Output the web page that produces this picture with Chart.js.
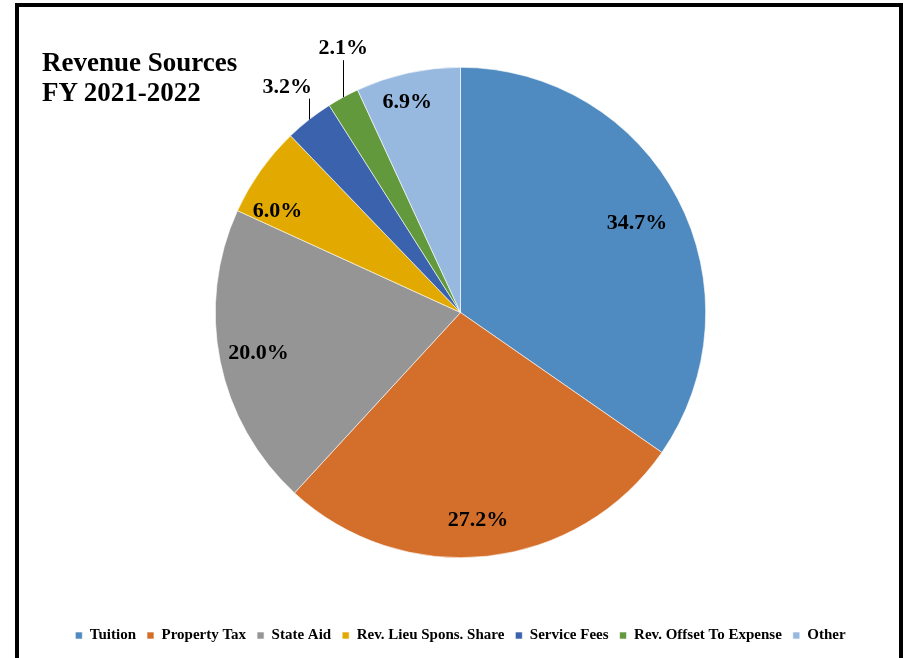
<!DOCTYPE html>
<html>
<head>
<meta charset="utf-8">
<script src="https://cdn.jsdelivr.net/npm/chart.js@4.4.0/dist/chart.umd.min.js"></script>
<style>
  html, body { margin: 0; padding: 0; background: #fff; overflow: hidden; }
  #wrap { position: relative; width: 907px; height: 658px; }
  #frame {
    position: absolute; left: 15px; top: 3px; width: 880px; height: 700px;
    border: 4px solid #000; box-sizing: content-box;
  }
  #title {
    position: absolute; left: 42px; top: 47px;
    font-family: "Liberation Serif", "Times New Roman", serif;
    font-weight: bold; font-size: 27px; line-height: 30px; color: #000;
  }
  canvas { position: absolute; left: 0; top: 0; }
</style>
</head>
<body>
<div id="wrap">
  <div id="frame"></div>
  <canvas id="pie" width="907" height="658"></canvas>
  <div id="title">Revenue Sources<br>FY 2021-2022</div>
</div>
<script>
const categories = ["Tuition", "Property Tax", "State Aid", "Rev. Lieu Spons. Share",
  "Service Fees", "Rev. Offset To Expense", "Other"];
const shares = [34.7, 27.2, 20.0, 6.0, 3.2, 2.1, 6.9];
const sliceColors = ["#4f8bc0", "#d46f2b", "#959595", "#e2aa00", "#3b63ad", "#63993d", "#97b9e0"];

const serif = '"Liberation Serif", "Times New Roman", serif';

// draws the percentage labels, small slices get a leader line pointing up
const pctLabels = {
  id: "pctLabels",
  afterDatasetsDraw(chart, args, opts) {
    const ctx = chart.ctx;
    const meta = chart.getDatasetMeta(0);
    ctx.save();
    ctx.font = "bold 22px " + serif;
    ctx.fillStyle = "#000";
    ctx.strokeStyle = "#000";
    ctx.lineWidth = 1;
    ctx.textAlign = "center";
    meta.data.forEach((arc, i) => {
      const p = arc.getProps(["x", "y", "startAngle", "endAngle", "outerRadius"], true);
      const mid = (p.startAngle + p.endAngle) / 2;
      const txt = shares[i].toFixed(1) + "%";
      const out = opts.outside[i];
      if (out) {
        const ex = p.x + Math.cos(mid) * p.outerRadius;
        const ey = p.y + Math.sin(mid) * p.outerRadius;
        ctx.beginPath();
        ctx.moveTo(Math.round(ex) + 0.5, ey);
        ctx.lineTo(Math.round(ex) + 0.5, ey - out.lead);
        ctx.stroke();
        ctx.textBaseline = "alphabetic";
        ctx.fillText(txt, ex + out.dx, ey - out.lead - 6);
      } else {
        const r = p.outerRadius * opts.frac;
        const n = opts.nudge[i] || [0, 0];
        ctx.textBaseline = "middle";
        ctx.fillText(txt, p.x + Math.cos(mid) * r + n[0], p.y + Math.sin(mid) * r + n[1]);
      }
    });
    ctx.restore();
  }
};

new Chart(document.getElementById("pie"), {
  type: "pie",
  data: {
    labels: categories,
    datasets: [{
      data: shares,
      backgroundColor: sliceColors,
      borderColor: "#ffffff",
      borderWidth: 0.6
    }]
  },
  options: {
    responsive: false,
    animation: false,
    layout: { padding: { top: 67, left: 30, right: 16, bottom: 5 } },
    plugins: {
      tooltip: { enabled: false },
      legend: {
        position: "bottom",
        // empty title only used as spacer between pie and legend row
        title: { display: true, text: " ", font: { size: 10 }, padding: { top: 47, bottom: 0 } },
        labels: {
          boxWidth: 7,
          boxHeight: 7,
          padding: 11,
          color: "#000",
          font: { family: serif, weight: "bold", size: 15 }
        }
      },
      pctLabels: {
        frac: 0.84,
        nudge: { 0: [-6, 6], 1: [-5, 3], 3: [-15, 18], 6: [-9, -9] },
        outside: { 4: { lead: 21, dx: -22 }, 5: { lead: 37, dx: 0 } }
      }
    }
  },
  plugins: [pctLabels]
});
</script>
</body>
</html>
